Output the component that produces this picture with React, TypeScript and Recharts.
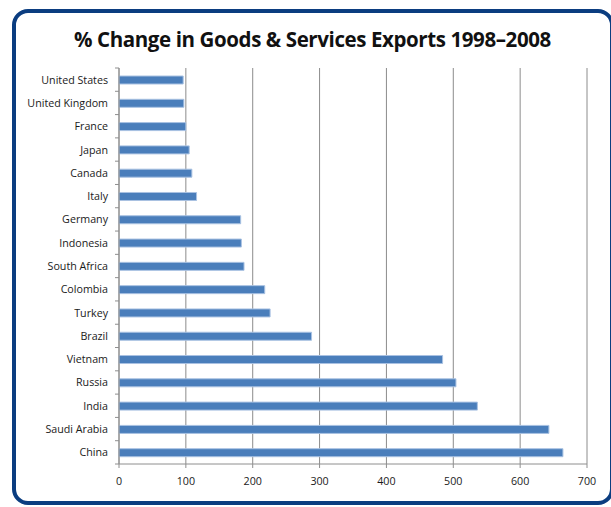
import React from "react";
import { BarChart, Bar, XAxis, YAxis, CartesianGrid } from "recharts";

const countries = [
  "United States", "United Kingdom", "France", "Japan", "Canada", "Italy",
  "Germany", "Indonesia", "South Africa", "Colombia", "Turkey", "Brazil",
  "Vietnam", "Russia", "India", "Saudi Arabia", "China",
];
const changes = [96, 97, 100, 105, 109, 116, 182, 183, 187, 218, 226, 288, 484, 504, 536, 643, 664];
const xTicks = [0, 100, 200, 300, 400, 500, 600, 700];
const title = "% Change in Goods & Services Exports 1998\u20132008";

const data = countries.map((c, i) => ({ country: c, value: changes[i] }));

const W = 611;
const H = 507;
const M = { top: 68, right: 24, bottom: 13, left: 0 };
const Y_W = 119;
const X_H = 30;
const plotH = H - M.top - M.bottom - X_H;
const band = plotH / countries.length;
const FONT = "'Open Sans', 'Noto Sans', sans-serif";

const YTick = (props: any) => {
  const { x, y, payload, index } = props;
  const axisX = M.left + Y_W;
  const last = index === countries.length - 1;
  return (
    <g>
      <line x1={axisX - 4} x2={axisX} y1={y - band / 2} y2={y - band / 2} stroke="#8e8e8e" />
      {last && <line x1={axisX - 4} x2={axisX} y1={y + band / 2} y2={y + band / 2} stroke="#8e8e8e" />}
      <text x={x} y={y} textAnchor="end" dominantBaseline="central" fontSize={10.7} fill="#1a1a1a" fontFamily={FONT}>
        {payload.value}
      </text>
    </g>
  );
};

export default function App() {
  return (
    <div style={{ position: "absolute", left: 0, top: 0, width: W, height: H, background: "#fff", overflow: "hidden" }}>
      <div
        style={{
          position: "absolute",
          left: 12,
          top: 9,
          width: 602,
          height: 496,
          boxSizing: "border-box",
          border: "4px solid #0b3d80",
          borderRadius: 16,
        }}
      />
      <div
        style={{
          position: "absolute",
          left: 0,
          width: 625,
          top: 25,
          textAlign: "center",
          fontFamily: FONT,
          fontWeight: 700,
          fontSize: 20.5,
          letterSpacing: -0.4,
          color: "#111",
          whiteSpace: "nowrap",
        }}
      >
        {title}
      </div>
      <div style={{ position: "absolute", left: 0, top: 0 }}>
        <BarChart width={W} height={H} data={data} layout="vertical" margin={M} barCategoryGap={0}>
          <CartesianGrid horizontal={false} vertical={true} stroke="#8c8c8c" />
          <XAxis
            type="number"
            domain={[0, 700]}
            ticks={xTicks}
            interval={0}
            height={X_H}
            stroke="#8e8e8e"
            tickSize={4}
            tickMargin={9}
            tick={{ fontSize: 10.7, fill: "#1a1a1a", fontFamily: FONT }}
          />
          <YAxis
            type="category"
            dataKey="country"
            width={Y_W}
            stroke="#8e8e8e"
            tickLine={false}
            tickSize={0}
            tickMargin={11}
            interval={0}
            tick={<YTick />}
          />
          <Bar dataKey="value" fill="#4a7ebb" stroke="#a9c2e2" strokeWidth={1} barSize={8} isAnimationActive={false} />
        </BarChart>
      </div>
    </div>
  );
}
